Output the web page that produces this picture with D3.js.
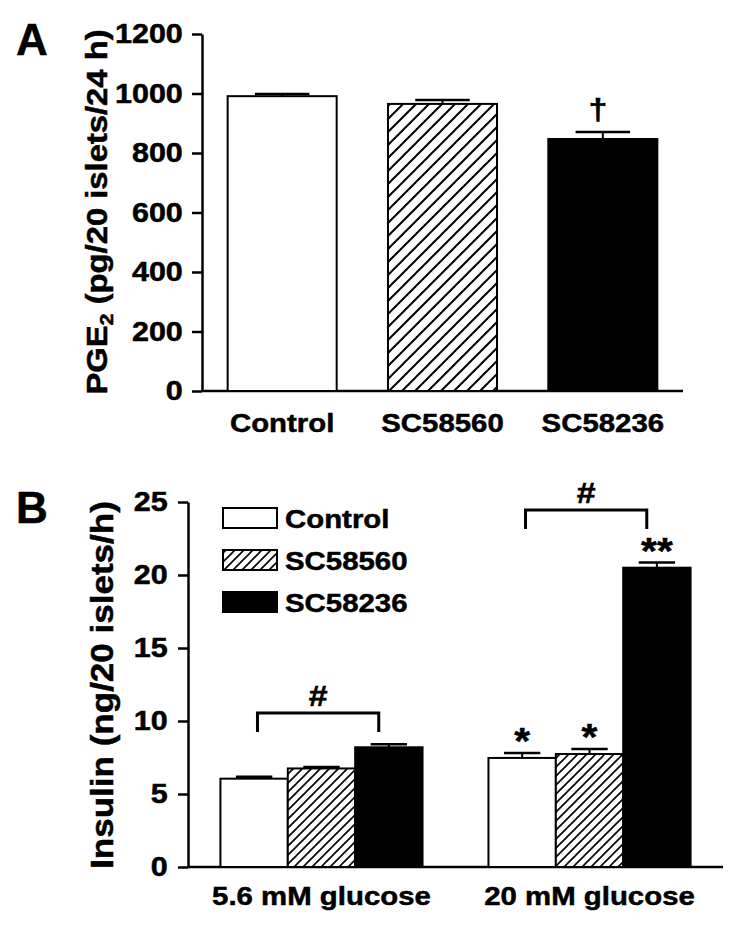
<!DOCTYPE html>
<html>
<head>
<meta charset="utf-8">
<script src="https://cdn.jsdelivr.net/npm/d3@7"></script>
<style>
  body { margin: 0; background: #fff; }
  svg { display: block; }
  text { font-family: 'Liberation Sans', Arial, sans-serif; font-weight: bold; fill: #000; stroke: #000; stroke-width: 0.5px; }
</style>
</head>
<body>
<svg id="chart" width="750" height="931"></svg>
<script>
// panel A: PGE2 release
const panelACategories = ['Control', 'SC58560', 'SC58236']
const panelAMeans = [991, 965, 847]
const panelAErrors = [7, 13, 24]
const panelAMarks = ['', '', '†']
const panelATicks = [0, 200, 400, 600, 800, 1000, 1200]

// panel B: insulin secretion
const panelBGroups = ['5.6 mM glucose', '20 mM glucose']
const panelBSeries = ['Control', 'SC58560', 'SC58236']
const panelBMeans = [[6.05, 6.75, 8.2], [7.47, 7.74, 20.5]]
const panelBErrors = [[0.13, 0.1, 0.2], [0.33, 0.34, 0.35]]
const panelBMarks = [['', '', ''], ['*', '*', '**']]
const panelBTicks = [0, 5, 10, 15, 20, 25]
const panelBBrackets = [
  { group: 0, level: 10.55, label: '#' },
  { group: 1, level: 24.45, label: '#' }
]

const SX = 1.13 // glyphs in the figure are wider than Arial
const svg = d3.select('#chart')

const defs = svg.append('defs')
function hatch (id, size, width) {
  const p = defs.append('pattern')
    .attr('id', id)
    .attr('patternUnits', 'userSpaceOnUse')
    .attr('width', size)
    .attr('height', size)
  p.append('rect').attr('width', size).attr('height', size).attr('fill', '#fff')
  p.append('path')
    .attr('d', `M${-size / 2},${size / 2} L${size / 2},${-size / 2} M0,${size} L${size},0 M${size / 2},${size * 1.5} L${size * 1.5},${size / 2}`)
    .attr('stroke', '#000')
    .attr('stroke-width', width)
}
hatch('hatchA', 13, 2)
hatch('hatchB', 9, 1.6)

function label (parent, x, y, str, size, anchor, rotate) {
  const g = parent.append('g')
    .attr('transform', `translate(${x},${y})${rotate ? ' rotate(-90)' : ''} scale(${SX},1)`)
  return g.append('text')
    .attr('text-anchor', anchor || 'middle')
    .style('font-size', size + 'px')
    .text(str)
}

function styleAxis (g, size) {
  g.select('.domain').attr('stroke', '#000').attr('stroke-width', 2.5)
  g.selectAll('.tick line').attr('stroke', '#000').attr('stroke-width', 2.5)
  g.selectAll('.tick text')
    .style('font-size', size + 'px')
    .style('font-family', null)
    .attr('transform', `scale(${SX},1)`)
}

// ---------- panel A ----------
const xA = d3.scaleBand().domain(panelACategories).range([202, 683]).paddingInner(0.32).paddingOuter(0.16)
const yA = d3.scaleLinear().domain([0, 1200]).range([391, 34])
const fillsA = ['#fff', 'url(#hatchA)', '#000']

const gA = svg.append('g')
gA.append('g')
  .attr('transform', 'translate(202,0)')
  .call(d3.axisLeft(yA).tickValues(panelATicks).tickFormat(d3.format('d')).tickSize(10).tickPadding(7).tickSizeOuter(0))
  .call(g => styleAxis(g, 27))
gA.append('line')
  .attr('x1', 202).attr('x2', 683)
  .attr('y1', yA(0)).attr('y2', yA(0))
  .attr('stroke', '#000').attr('stroke-width', 2.5)

panelACategories.forEach((c, i) => {
  const x0 = xA(c)
  const bw = xA.bandwidth()
  const top = yA(panelAMeans[i])
  const capY = yA(panelAMeans[i] + panelAErrors[i])
  gA.append('line')
    .attr('x1', x0 + bw / 2).attr('x2', x0 + bw / 2)
    .attr('y1', top).attr('y2', capY)
    .attr('stroke', '#000').attr('stroke-width', 2)
  gA.append('line')
    .attr('x1', x0 + bw / 4).attr('x2', x0 + bw * 0.75)
    .attr('y1', capY).attr('y2', capY)
    .attr('stroke', '#000').attr('stroke-width', 2.5)
  gA.append('rect')
    .attr('x', x0).attr('y', top)
    .attr('width', bw).attr('height', yA(0) - top)
    .attr('fill', fillsA[i]).attr('stroke', '#000').attr('stroke-width', 2)
  if (panelAMarks[i]) label(gA, x0 + bw / 2 - 5, capY - 12, panelAMarks[i], 30)
  label(gA, x0 + bw / 2, 432, c, 26)
})

label(gA, 107, 212, '', 29, 'middle', true)
  .call(t => {
    t.append('tspan').text('PGE')
    t.append('tspan').attr('dy', 6).style('font-size', '19px').text('2')
    t.append('tspan').attr('dy', -6).text(' (pg/20 islets/24 h)')
  })
label(gA, 32, 55, 'A', 44).attr('transform', `scale(${1 / SX},1)`)

// ---------- panel B ----------
const xB = d3.scaleBand().domain(panelBGroups).range([188, 723]).paddingInner(0.246).paddingOuter(0.121)
const xBs = d3.scaleBand().domain(panelBSeries).range([0, xB.bandwidth()])
const yB = d3.scaleLinear().domain([0, 25]).range([867, 502])
const fillsB = ['#fff', 'url(#hatchB)', '#000']

const gB = svg.append('g')
gB.append('g')
  .attr('transform', 'translate(188,0)')
  .call(d3.axisLeft(yB).tickValues(panelBTicks).tickSize(10).tickPadding(8).tickSizeOuter(0))
  .call(g => styleAxis(g, 27))
gB.append('line')
  .attr('x1', 188).attr('x2', 723)
  .attr('y1', yB(0)).attr('y2', yB(0))
  .attr('stroke', '#000').attr('stroke-width', 2.5)

panelBGroups.forEach((grp, gi) => {
  const gx = xB(grp)
  panelBSeries.forEach((s, si) => {
    const x0 = gx + xBs(s)
    const bw = xBs.bandwidth()
    const top = yB(panelBMeans[gi][si])
    const capY = yB(panelBMeans[gi][si] + panelBErrors[gi][si])
    gB.append('line')
      .attr('x1', x0 + bw / 2).attr('x2', x0 + bw / 2)
      .attr('y1', top).attr('y2', capY)
      .attr('stroke', '#000').attr('stroke-width', 2)
    gB.append('line')
      .attr('x1', x0 + bw * 0.23).attr('x2', x0 + bw * 0.77)
      .attr('y1', capY).attr('y2', capY)
      .attr('stroke', '#000').attr('stroke-width', 2.5)
    gB.append('rect')
      .attr('x', x0).attr('y', top)
      .attr('width', bw).attr('height', yB(0) - top)
      .attr('fill', fillsB[si]).attr('stroke', '#000').attr('stroke-width', 2)
    if (panelBMarks[gi][si]) label(gB, x0 + bw / 2, capY + 1, panelBMarks[gi][si], 36)
  })
  label(gB, gx + xB.bandwidth() / 2, 905, grp, 26)
})

panelBBrackets.forEach(b => {
  const gx = xB(panelBGroups[b.group])
  const x1 = gx + xBs(panelBSeries[0]) + xBs.bandwidth() * 0.55
  const x2 = gx + xBs(panelBSeries[2]) + xBs.bandwidth() * 0.35
  const y = yB(b.level)
  gB.append('path')
    .attr('d', `M${x1},${y + 19} V${y} H${x2} V${y + 19}`)
    .attr('fill', 'none').attr('stroke', '#000').attr('stroke-width', 3)
  label(gB, (x1 + x2) / 2, y - 7, b.label, 30)
})

// legend
const legend = gB.append('g').attr('transform', 'translate(223,508)')
panelBSeries.forEach((s, i) => {
  legend.append('rect')
    .attr('x', 0).attr('y', i * 42)
    .attr('width', 54).attr('height', 20)
    .attr('fill', fillsB[i]).attr('stroke', '#000').attr('stroke-width', 2)
  label(legend, 62, i * 42 + 20, s, 26, 'start')
})

label(gB, 113, 685, 'Insulin (ng/20 islets/h)', 31, 'middle', true)
label(gB, 32, 523, 'B', 44).attr('transform', `scale(${1 / SX},1)`)
</script>
</body>
</html>
